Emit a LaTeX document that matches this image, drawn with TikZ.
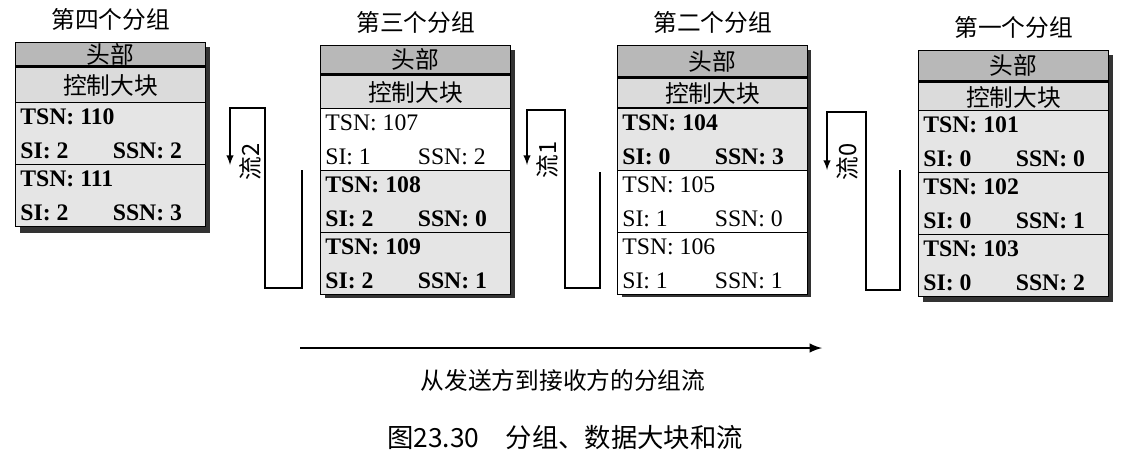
\documentclass[tikz,border=0pt]{standalone}
\usepackage{fontspec}
\setmainfont{Liberation Serif}
\newfontfamily\cjk{Noto Sans CJK SC}
\usetikzlibrary{positioning}
\definecolor{hdgray}{gray}{0.72}
\definecolor{ctgray}{gray}{0.86}
\definecolor{rowgray}{gray}{0.9}
\tikzset{
  box/.style={draw, line width=0.8pt, anchor=north west, minimum width=3.8cm, inner sep=0pt},
  cn/.style={font=\cjk\fontsize{13.5}{13.5}\selectfont},
  fld/.style={anchor=west, inner sep=0pt},
  flow/.style={line width=0.9pt},
}
% row: name, x, y, fill, tsn, si, ssn, weight
\newcommand\segrow[8]{%
  \node[box, fill=#4, minimum height=1.24cm] (#1) at (#2,#3) {};
  \node[fld, font=\fontsize{13.5}{13.5}\selectfont#8] at ([xshift=0.1cm, yshift=-0.3cm]#1.north west) {TSN: #5};
  \node[fld, font=\fontsize{13.5}{13.5}\selectfont#8] at ([xshift=0.1cm, yshift=0.3cm]#1.south west) {SI: #6};
  \node[fld, font=\fontsize{13.5}{13.5}\selectfont#8] at ([xshift=1.95cm, yshift=0.3cm]#1.south west) {SSN: #7};
}
% packet head: name, x, y, head height, ctrl height, title
\newcommand\pkthead[6]{%
  \node[box, fill=hdgray, minimum height=#4cm, cn] (#1h) at (#2,#3) {头部};
  \node[box, fill=ctgray, minimum height=#5cm, cn] (#1c) at (#1h.south west) {控制大块};
  \node[cn, above=0.1cm of #1h] {#6};
}
\begin{document}
\begin{tikzpicture}[x=0.02cm, y=-0.02cm]
\useasboundingbox (0,0) rectangle (1125,461);
% shadows
\fill[black!80] (20,47) rectangle (210,233);
\fill[black!80] (325,50) rectangle (515,298);
\fill[black!80] (622,50) rectangle (811,297);
\fill[black!80] (923,55) rectangle (1113,302);
% packet 4
\pkthead{p4}{15}{42}{0.46}{0.74}{第四个分组}
\segrow{p4a}{15}{102}{rowgray}{110}{2}{2}{\bfseries}
\segrow{p4b}{15}{164}{rowgray}{111}{2}{3}{\bfseries}
% packet 3
\pkthead{p3}{320}{45}{0.56}{0.7}{第三个分组}
\segrow{p3a}{320}{108}{white}{107}{1}{2}{}
\segrow{p3b}{320}{170}{rowgray}{108}{2}{0}{\bfseries}
\segrow{p3c}{320}{232}{rowgray}{109}{2}{1}{\bfseries}
% packet 2
\pkthead{p2}{617}{45}{0.62}{0.6}{第二个分组}
\segrow{p2a}{617}{108}{rowgray}{104}{0}{3}{\bfseries}
\segrow{p2b}{617}{170}{white}{105}{1}{0}{}
\segrow{p2c}{617}{232}{white}{106}{1}{1}{}
% packet 1
\pkthead{p1}{918}{50}{0.6}{0.6}{第一个分组}
\segrow{p1a}{918}{110}{rowgray}{101}{0}{0}{\bfseries}
\segrow{p1b}{918}{172}{rowgray}{102}{0}{1}{\bfseries}
\segrow{p1c}{918}{234}{rowgray}{103}{0}{2}{\bfseries}
% streams
\draw[flow, -latex] (302,170) -- (302,288) -- (265,288) -- (265,108) -- (230,108) -- (230,165);
\node[cn, rotate=90] at (250,162) {流2};
\draw[flow, -latex] (600,172) -- (600,288) -- (565,288) -- (565,110) -- (527,110) -- (527,165);
\node[cn, rotate=90] at (547,160) {流1};
\draw[flow, -latex] (900,170) -- (900,290) -- (866,290) -- (866,112) -- (827,112) -- (827,170);
\node[cn, rotate=90] at (847,162) {流0};
% direction
\coordinate (from) at (300,348);
\coordinate (to) at (822,348);
\draw[line width=1.4pt, -latex] (from) -- (to);
\node[cn] (dir) at (563,380) {从发送方到接收方的分组流};
\node[cn, font=\cjk\fontsize{15}{15}\selectfont] (cap) at (565,437) {图23.30\quad 分组、数据大块和流};
\end{tikzpicture}
\end{document}
